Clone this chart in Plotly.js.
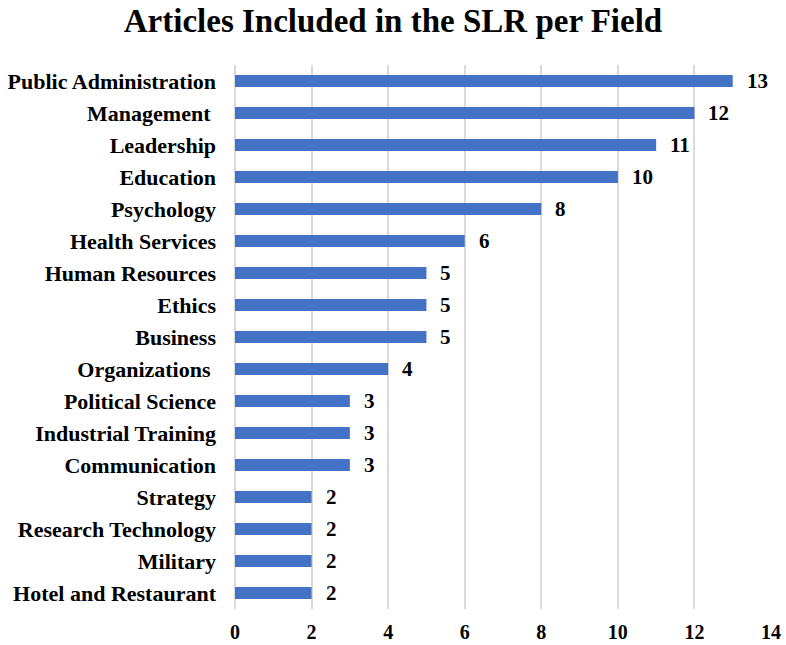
<!DOCTYPE html>
<html>
<head>
<meta charset="utf-8">
<script src="https://cdn.plot.ly/plotly-3.0.1.min.js"></script>
<style>html,body{margin:0;padding:0;background:#fff;}#chart{width:786px;height:645px;}</style>
</head>
<body>
<div id="chart"></div>
<script>
const categories = ["Public Administration","Management ","Leadership","Education","Psychology","Health Services","Human Resources","Ethics","Business","Organizations ","Political Science","Industrial Training","Communication","Strategy","Research Technology","Military","Hotel and Restaurant"];
const values = [13,12,11,10,8,6,5,5,5,4,3,3,3,2,2,2,2];
const xTicks = [0,2,4,6,8,10,12,14];

const serif = "Liberation Serif, Times New Roman, serif";

const trace = {
  type: "bar",
  orientation: "h",
  y: categories,
  x: values,
  marker: {color: "#4472C4", line: {color: "#4472C4", width: 0}},
  width: 0.38,
  hoverinfo: "none"
};

const annotations = values.map((v, i) => ({
  x: v, y: categories[i], xref: "x", yref: "y",
  text: String(v), showarrow: false, xanchor: "left", xshift: 12,
  font: {family: serif, size: 21, color: "#000", weight: "bold"}
}));

const layout = {
  width: 786, height: 645,
  margin: {l: 235, r: 15, t: 65, b: 36},
  paper_bgcolor: "#fff", plot_bgcolor: "#fff",
  showlegend: false,
  title: {text: "<b>Articles Included in the SLR per Field</b>", x: 0.5, xanchor: "center", xref: "container",
          y: 0.968, yref: "container", yanchor: "middle",
          font: {family: serif, size: 33, color: "#000"}},
  xaxis: {range: [0, 14], tickvals: xTicks, ticktext: xTicks.map(String),
          showgrid: true, gridcolor: "#d9d9d9", gridwidth: 2,
          zeroline: true, zerolinecolor: "#d9d9d9", zerolinewidth: 2,
          showline: false, ticks: "", ticklabelstandoff: 9,
          tickfont: {family: serif, size: 20, color: "#000", weight: "bold"}, fixedrange: true},
  yaxis: {autorange: "reversed", type: "category", showgrid: false, zeroline: false, showline: false,
          ticks: "", ticklabelstandoff: 18,
          tickfont: {family: serif, size: 22, color: "#000", weight: "bold"}, fixedrange: true},
  annotations: annotations
};

Plotly.newPlot("chart", [trace], layout, {staticPlot: true, displayModeBar: false});
</script>
</body>
</html>
